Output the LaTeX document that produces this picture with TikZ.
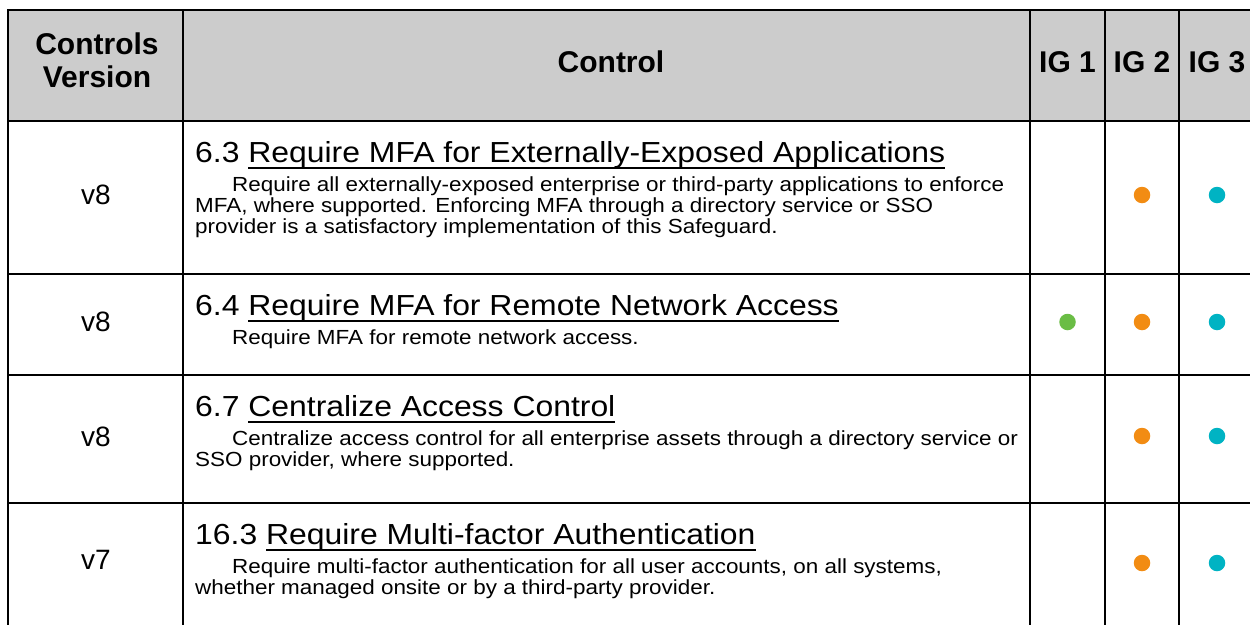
\documentclass[tikz,border=0pt]{standalone}
\usepackage{fontspec}
\setmainfont{Liberation Sans}
\newfontfamily\ctlfont{Liberation Sans}[FakeStretch=1.1]
\definecolor{hdgray}{HTML}{CCCCCC}
\definecolor{igorange}{HTML}{F28C13}
\definecolor{igcyan}{HTML}{00B3C3}
\definecolor{iggreen}{HTML}{6ABD45}
\newcommand{\linkul}[1]{\setbox0=\hbox{#1}\rlap{\rule[-6pt]{\wd0}{2pt}}\box0}

\begin{document}
\begin{tikzpicture}[x=1pt,y=-1pt,
    hd/.style={font=\fontsize{30}{33}\selectfont\bfseries,inner sep=0pt,align=center},
    ver/.style={font=\fontsize{28}{32}\selectfont,inner sep=0pt,anchor=base},
    ttl/.style={font=\ctlfont\fontsize{29}{32}\selectfont,inner sep=0pt,anchor=base west},
    bd/.style={font=\ctlfont\fontsize{20.4}{22}\selectfont,inner sep=0pt,anchor=base west},
    dot/.style={circle,inner sep=0pt,minimum size=16.5pt}]
    \useasboundingbox (0,0) rectangle (1250,624);

    % header band and grid
    \fill[hdgray] (8,10) rectangle (1254,121);
    \draw[line width=2pt] (8,10) rectangle (1254,628);
    \foreach \x in {183,1030,1105,1179}
        \draw[line width=2pt] (\x,10) -- (\x,628);
    \foreach \y in {121,274,375,503}
        \draw[line width=2pt] (8,\y) -- (1254,\y);

    % header
    \node[hd] (hdVer) at (97,60.5) {Controls\\Version};
    \node[hd,anchor=base] (hdCtl) at (611,72) {Control};
    \node[hd,anchor=base] (hdIGa) at (1067.5,72) {IG 1};
    \node[hd,anchor=base] (hdIGb) at (1142,72) {IG 2};
    \node[hd,anchor=base] (hdIGc) at (1217,72) {IG 3};

    % versions
    \node[ver] (verA) at (96,204.5) {v8};
    \node[ver] (verB) at (96,331.5) {v8};
    \node[ver] (verC) at (96,446) {v8};
    \node[ver] (verD) at (96,569) {v7};

    % controls
    \node[ttl] (ttlA) at (195,162.5) {6.3 \linkul{Require MFA for Externally-Exposed Applications}};
    \node[bd] (bdAa) at (232,191.5) {Require all externally-exposed enterprise or third-party applications to enforce};
    \node[bd] (bdAb) at (195,212.5) {MFA, where supported. Enforcing MFA through a directory service or SSO};
    \node[bd] (bdAc) at (195,233.5) {provider is a satisfactory implementation of this Safeguard.};

    \node[ttl] (ttlB) at (195,315.5) {6.4 \linkul{Require MFA for Remote Network Access}};
    \node[bd] (bdBa) at (232,344.5) {Require MFA for remote network access.};

    \node[ttl] (ttlC) at (195,416.5) {6.7 \linkul{Centralize Access Control}};
    \node[bd] (bdCa) at (232,445.5) {Centralize access control for all enterprise assets through a directory service or};
    \node[bd] (bdCb) at (195,466.5) {SSO provider, where supported.};

    \node[ttl] (ttlD) at (195,544.5) {16.3 \linkul{Require Multi-factor Authentication}};
    \node[bd] (bdDa) at (232,573.5) {Require multi-factor authentication for all user accounts, on all systems,};
    \node[bd] (bdDb) at (195,594.5) {whether managed onsite or by a third-party provider.};

    % implementation groups
    \node[dot,fill=igorange] (dotAb) at (1142,195) {};
    \node[dot,fill=igcyan] (dotAc) at (1217,195) {};
    \node[dot,fill=iggreen] (dotBa) at (1067.5,322) {};
    \node[dot,fill=igorange] (dotBb) at (1142,322) {};
    \node[dot,fill=igcyan] (dotBc) at (1217,322) {};
    \node[dot,fill=igorange] (dotCb) at (1142,436) {};
    \node[dot,fill=igcyan] (dotCc) at (1217,436) {};
    \node[dot,fill=igorange] (dotDb) at (1142,563) {};
    \node[dot,fill=igcyan] (dotDc) at (1217,563) {};
\end{tikzpicture}
\end{document}
